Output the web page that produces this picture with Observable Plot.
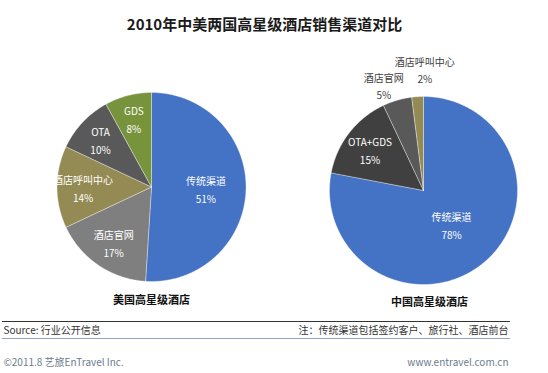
<!DOCTYPE html>
<html><head><meta charset="utf-8">
<script src="https://cdn.jsdelivr.net/npm/d3@7"></script>
<script src="https://cdn.jsdelivr.net/npm/@observablehq/plot@0.6"></script>
<style>body{margin:0;background:#fff;}</style>
</head><body><div id="chart"></div>
<script>
const title = "2010年中美两国高星级酒店销售渠道对比";
const usChannels = ["传统渠道", "酒店官网", "酒店呼叫中心", "OTA", "GDS"];
const usShares = [51, 17, 14, 10, 8];
const usColors = ["#4472C4", "#7F7F7F", "#948A54", "#595959", "#77933C"];
const cnChannels = ["传统渠道", "OTA+GDS", "酒店官网", "酒店呼叫中心"];
const cnShares = [78, 15, 5, 2];
const cnColors = ["#4472C4", "#404040", "#595959", "#948A54"];
const pieTitles = ["美国高星级酒店", "中国高星级酒店"];
const sourceNote = "Source: 行业公开信息";
const footNote = "注：传统渠道包括签约客户、旅行社、酒店前台";
const copyright = "©2011.8 艺旅EnTravel Inc.";
const website = "www.entravel.com.cn";

// layout (pixel space)
const W = 548, H = 373;
const pies = [
  {name: pieTitles[0], channels: usChannels, shares: usShares, colors: usColors, cx: 151, cy: 186.5, r: 94.5, titleX: 151, titleY: 300},
  {name: pieTitles[1], channels: cnChannels, shares: cnShares, colors: cnColors, cx: 423, cy: 190, r: 94, titleX: 429, titleY: 302}
];

const slicePts = [];
const labels = [];
pies.forEach((p, pi) => {
  const total = d3.sum(p.shares);
  let a0 = 0;
  p.shares.forEach((v, i) => {
    const frac = v / total;
    const a1 = a0 + frac * 2 * Math.PI;
    const key = pi + "-" + i;
    const pt = (a, rr) => ({x: p.cx + rr * Math.sin(a), y: p.cy - rr * Math.cos(a)});
    slicePts.push({key, color: p.colors[i], ...pt(0, 0)});
    const n = Math.max(2, Math.ceil((a1 - a0) / 0.01));
    for (let k = 0; k <= n; k++) {
      slicePts.push({key, color: p.colors[i], ...pt(a0 + (a1 - a0) * k / n, p.r)});
    }
    slicePts.push({key, color: p.colors[i], ...pt(0, 0)});
    const mid = (a0 + a1) / 2;
    let rr, inside = true, shift = 0;
    if (frac < 0.06) {
      // small slices: labels outside, staggered so they do not collide
      rr = p.r + 16 + (0.05 - frac) * 400; inside = false; shift = (0.035 - frac) * 600;
    } else rr = p.r * (0.78 - 0.4 * frac);
    const q = pt(mid, rr);
    labels.push({text: p.channels[i] + "\n" + v + "%", inside, x: q.x + shift, y: q.y});
    a0 = a1;
  });
});

const font = "'Noto Sans CJK SC', 'Noto Sans', sans-serif";
const chart = Plot.plot({
  width: W, height: H, margin: 0,
  x: {domain: [0, W], range: [0, W], axis: null},
  y: {domain: [0, H], range: [0, H], axis: null},
  color: {type: "identity"},
  style: {fontFamily: font, background: "#fff"},
  marks: [
    Plot.line(slicePts, {x: "x", y: "y", z: "key", fill: "color", stroke: "#fff", strokeOpacity: 0.6, strokeWidth: 0.6, curve: "linear"}),
    Plot.text(labels.filter(d => d.inside), {x: "x", y: "y", text: "text", fill: "#fff", fontSize: 10, lineHeight: 1.8}),
    Plot.text(labels.filter(d => !d.inside), {x: "x", y: "y", text: "text", fill: "#404040", fontSize: 10, lineHeight: 1.7}),
    Plot.text(pies, {x: "titleX", y: "titleY", text: "name", fill: "#111", fontSize: 11, fontWeight: "bold"}),
    Plot.text([title], {frameAnchor: "top", dy: 25, dx: -10, lineAnchor: "middle", fontSize: 15, fontWeight: "bold", fill: "#1a1a1a"}),
    Plot.ruleY([321], {x1: 2, x2: 510, stroke: "#333", strokeWidth: 1}),
    Plot.ruleY([338], {x1: 2, x2: 510, stroke: "#8EA4C8", strokeWidth: 1}),
    Plot.text([sourceNote], {frameAnchor: "left", y: 330, dx: 3, textAnchor: "start", fontSize: 10, fill: "#333"}),
    Plot.text([footNote], {x: 508, y: 330, textAnchor: "end", fontSize: 10, fill: "#333"}),
    Plot.text([copyright], {frameAnchor: "left", y: 362, dx: 3, textAnchor: "start", fontSize: 10, fill: "#6b7b8c"}),
    Plot.text([website], {x: 508, y: 362, textAnchor: "end", fontSize: 10, fill: "#6b7b8c"})
  ]
});
document.getElementById("chart").appendChild(chart);
</script>
</body></html>
